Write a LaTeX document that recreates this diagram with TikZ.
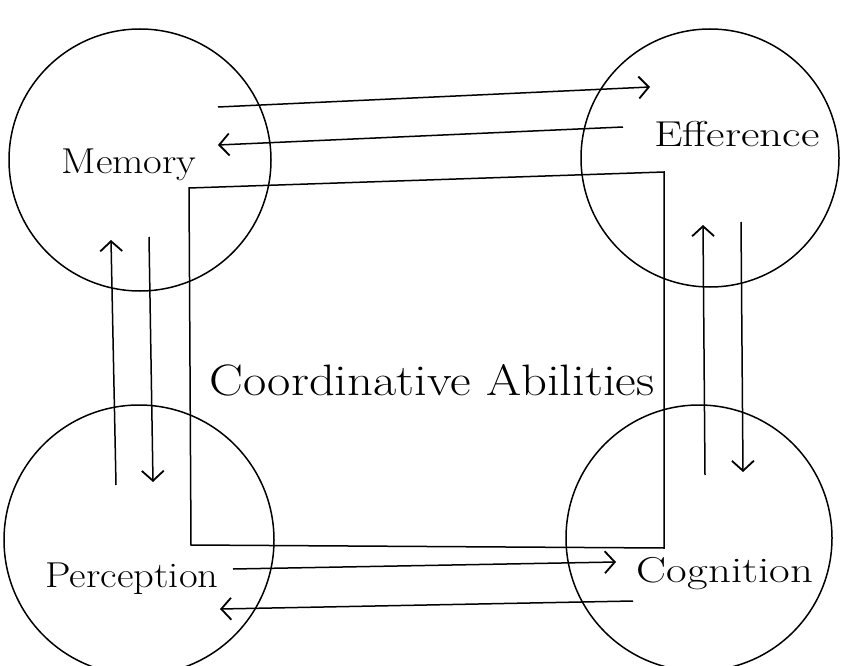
\documentclass[tikz,border=0pt]{standalone}
\usepackage{graphicx}
\usetikzlibrary{arrows.meta}
\begin{document}
\begin{tikzpicture}[x=1pt,y=-1pt,
  ring/.style={draw,circle,line width=1.5pt,inner sep=0pt},
  lbl/.style={font=\fontsize{36}{42}\selectfont,inner sep=0pt,anchor=base},
  conn/.style={line width=1.5pt,-{Straight Barb[length=10pt,width=22pt,line width=1.8pt]}},
  box/.style={draw,line width=1.5pt}]
\useasboundingbox (0,0) rectangle (846,666);
% circles
\node[ring,minimum size=262pt] (cm) at (140,160) {};
\node[ring,minimum size=258pt] (ce) at (710,158) {};
\node[ring,minimum size=270pt] (cp) at (139,540) {};
\node[ring,minimum size=266pt] (cc) at (699,538) {};
% box
\draw[box] (189,188) -- (664,172) -- (664,548) -- (191,545) -- cycle;
% labels
\node[lbl] (mem) at (129,173) {\resizebox{135pt}{\height}{Memory}};
\node[lbl] (eff) at (737,147) {\resizebox{165pt}{\height}{Efference}};
\node[lbl] (per) at (132,587) {\resizebox{173pt}{\height}{Perception}};
\node[lbl] (cog) at (725,582) {\resizebox{176pt}{\height}{Cognition}};
\node[lbl,font=\fontsize{44}{50}\selectfont] (ca) at (432,395) {\resizebox{445pt}{\height}{Coordinative Abilities}};
% connector endpoints
\coordinate (a1) at (218,107); \coordinate (a2) at (650,87);
\coordinate (b1) at (623,127); \coordinate (b2) at (218,145);
\coordinate (c1) at (116,485); \coordinate (c2) at (111,240);
\coordinate (d1) at (149,237); \coordinate (d2) at (153,482);
\coordinate (e1) at (705,475); \coordinate (e2) at (703,225);
\coordinate (f1) at (741,222); \coordinate (f2) at (743,472);
\coordinate (g1) at (233,569); \coordinate (g2) at (616,562);
\coordinate (h1) at (633,601); \coordinate (h2) at (220,609);
\draw[conn] (a1) -- (a2);
\draw[conn] (b1) -- (b2);
\draw[conn] (c1) -- (c2);
\draw[conn] (d1) -- (d2);
\draw[conn] (e1) -- (e2);
\draw[conn] (f1) -- (f2);
\draw[conn] (g1) -- (g2);
\draw[conn] (h1) -- (h2);
\end{tikzpicture}
\end{document}
